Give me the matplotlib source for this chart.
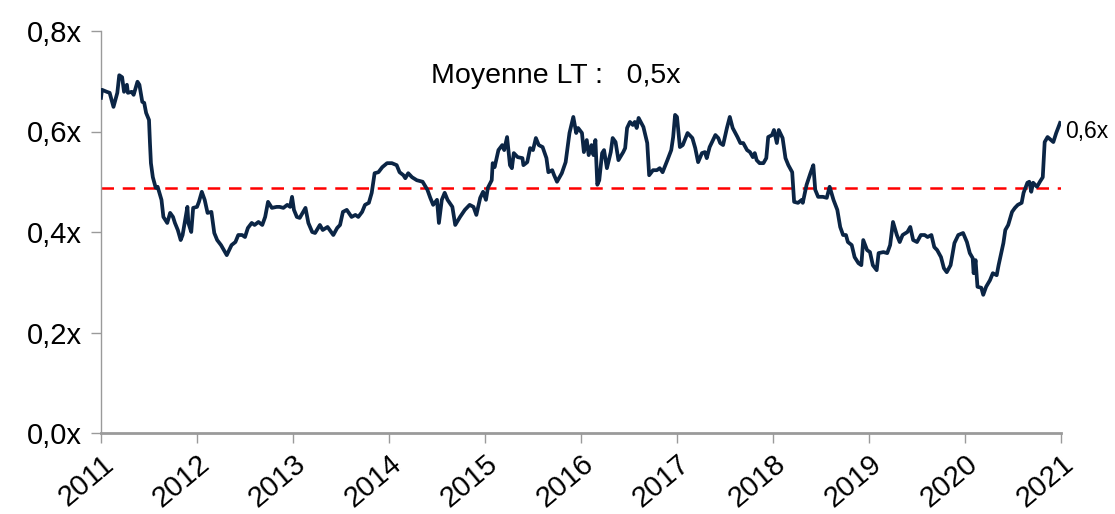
import matplotlib
matplotlib.use("Agg")
import matplotlib.pyplot as plt

# Decimal years and valuation multiple (x)
years = [
    2011.00, 2011.01, 2011.06, 2011.09, 2011.13, 2011.17, 2011.19, 2011.22, 2011.24, 2011.27,
    2011.28, 2011.32, 2011.34, 2011.38, 2011.40, 2011.43, 2011.45, 2011.47, 2011.50, 2011.51,
    2011.52, 2011.54, 2011.57, 2011.59, 2011.63, 2011.65, 2011.69, 2011.72, 2011.75, 2011.77,
    2011.80, 2011.83, 2011.85, 2011.90, 2011.91, 2011.94, 2011.96, 2012.00, 2012.02, 2012.05,
    2012.08, 2012.11, 2012.15, 2012.18, 2012.21, 2012.25, 2012.31, 2012.36, 2012.40, 2012.43,
    2012.47, 2012.50, 2012.53, 2012.57, 2012.60, 2012.64, 2012.68, 2012.71, 2012.74, 2012.78,
    2012.83, 2012.86, 2012.90, 2012.94, 2012.97, 2012.99, 2013.01, 2013.04, 2013.07, 2013.13,
    2013.16, 2013.20, 2013.23, 2013.28, 2013.31, 2013.36, 2013.42, 2013.46, 2013.49, 2013.52,
    2013.56, 2013.61, 2013.65, 2013.68, 2013.72, 2013.75, 2013.79, 2013.82, 2013.85, 2013.89,
    2013.93, 2013.98, 2014.03, 2014.08, 2014.11, 2014.15, 2014.17, 2014.20, 2014.24, 2014.29,
    2014.35, 2014.40, 2014.43, 2014.46, 2014.50, 2014.52, 2014.55, 2014.58, 2014.61, 2014.66,
    2014.69, 2014.74, 2014.79, 2014.84, 2014.88, 2014.91, 2014.95, 2014.98, 2015.01, 2015.03,
    2015.07, 2015.08, 2015.10, 2015.14, 2015.18, 2015.20, 2015.23, 2015.26, 2015.28, 2015.30,
    2015.34, 2015.39, 2015.40, 2015.44, 2015.47, 2015.50, 2015.53, 2015.56, 2015.60, 2015.64,
    2015.66, 2015.70, 2015.72, 2015.75, 2015.80, 2015.84, 2015.88, 2015.92, 2015.95, 2015.97,
    2016.01, 2016.03, 2016.06, 2016.08, 2016.11, 2016.13, 2016.15, 2016.17, 2016.19, 2016.22,
    2016.24, 2016.27, 2016.31, 2016.33, 2016.36, 2016.39, 2016.44, 2016.46, 2016.48, 2016.51,
    2016.54, 2016.56, 2016.58, 2016.60, 2016.65, 2016.69, 2016.71, 2016.75, 2016.79, 2016.82,
    2016.85, 2016.90, 2016.94, 2016.96, 2016.98, 2017.00, 2017.03, 2017.06, 2017.11, 2017.16,
    2017.19, 2017.22, 2017.26, 2017.29, 2017.31, 2017.34, 2017.40, 2017.43, 2017.45, 2017.48,
    2017.52, 2017.55, 2017.58, 2017.63, 2017.66, 2017.69, 2017.73, 2017.76, 2017.79, 2017.81,
    2017.83, 2017.86, 2017.90, 2017.93, 2017.95, 2017.99, 2018.01, 2018.04, 2018.06, 2018.10,
    2018.13, 2018.16, 2018.20, 2018.22, 2018.26, 2018.30, 2018.31, 2018.35, 2018.39, 2018.42,
    2018.44, 2018.47, 2018.52, 2018.56, 2018.59, 2018.63, 2018.67, 2018.70, 2018.73, 2018.76,
    2018.78, 2018.82, 2018.85, 2018.89, 2018.92, 2018.94, 2018.98, 2019.01, 2019.04, 2019.08,
    2019.10, 2019.15, 2019.19, 2019.22, 2019.25, 2019.29, 2019.32, 2019.35, 2019.40, 2019.43,
    2019.46, 2019.50, 2019.54, 2019.58, 2019.61, 2019.65, 2019.68, 2019.71, 2019.75, 2019.78,
    2019.81, 2019.85, 2019.89, 2019.93, 2019.98, 2020.02, 2020.05, 2020.08, 2020.09, 2020.11,
    2020.13, 2020.17, 2020.19, 2020.22, 2020.26, 2020.29, 2020.33, 2020.35, 2020.40, 2020.42,
    2020.45, 2020.49, 2020.52, 2020.55, 2020.59, 2020.61, 2020.65, 2020.67, 2020.69, 2020.71,
    2020.75, 2020.78, 2020.81, 2020.83, 2020.86, 2020.92, 2020.95, 2020.99,
]
values = [
    0.667, 0.683, 0.679, 0.677, 0.649, 0.677, 0.712, 0.708, 0.679, 0.693,
    0.677, 0.679, 0.673, 0.699, 0.693, 0.659, 0.657, 0.637, 0.623, 0.577,
    0.537, 0.509, 0.488, 0.490, 0.464, 0.430, 0.418, 0.438, 0.430, 0.418,
    0.404, 0.384, 0.394, 0.450, 0.418, 0.400, 0.448, 0.450, 0.460, 0.480,
    0.464, 0.438, 0.440, 0.398, 0.384, 0.374, 0.354, 0.374, 0.380, 0.394,
    0.394, 0.390, 0.408, 0.418, 0.414, 0.420, 0.414, 0.430, 0.460, 0.448,
    0.450, 0.450, 0.448, 0.454, 0.450, 0.470, 0.444, 0.430, 0.428, 0.448,
    0.418, 0.400, 0.398, 0.414, 0.404, 0.410, 0.394, 0.408, 0.414, 0.440,
    0.444, 0.430, 0.434, 0.430, 0.440, 0.454, 0.458, 0.478, 0.517, 0.519,
    0.529, 0.537, 0.537, 0.533, 0.519, 0.513, 0.507, 0.517, 0.509, 0.503,
    0.500, 0.484, 0.468, 0.454, 0.464, 0.418, 0.464, 0.478, 0.464, 0.450,
    0.414, 0.430, 0.444, 0.454, 0.450, 0.434, 0.468, 0.480, 0.464, 0.488,
    0.503, 0.537, 0.529, 0.563, 0.573, 0.563, 0.589, 0.533, 0.527, 0.557,
    0.549, 0.547, 0.533, 0.539, 0.567, 0.563, 0.587, 0.573, 0.569, 0.547,
    0.519, 0.523, 0.513, 0.500, 0.517, 0.539, 0.597, 0.629, 0.597, 0.607,
    0.597, 0.559, 0.583, 0.553, 0.573, 0.553, 0.583, 0.494, 0.503, 0.557,
    0.563, 0.527, 0.559, 0.587, 0.579, 0.543, 0.559, 0.567, 0.607, 0.619,
    0.613, 0.619, 0.607, 0.627, 0.609, 0.577, 0.513, 0.523, 0.523, 0.527,
    0.519, 0.543, 0.563, 0.589, 0.633, 0.629, 0.569, 0.573, 0.597, 0.587,
    0.567, 0.539, 0.557, 0.559, 0.547, 0.569, 0.593, 0.587, 0.577, 0.573,
    0.607, 0.629, 0.607, 0.589, 0.577, 0.577, 0.563, 0.559, 0.549, 0.557,
    0.543, 0.537, 0.537, 0.547, 0.589, 0.593, 0.603, 0.577, 0.603, 0.587,
    0.547, 0.533, 0.519, 0.460, 0.458, 0.464, 0.458, 0.494, 0.517, 0.533,
    0.484, 0.470, 0.470, 0.468, 0.490, 0.464, 0.444, 0.410, 0.394, 0.394,
    0.380, 0.374, 0.350, 0.338, 0.334, 0.384, 0.364, 0.360, 0.334, 0.324,
    0.358, 0.360, 0.358, 0.374, 0.420, 0.394, 0.380, 0.394, 0.400, 0.410,
    0.384, 0.380, 0.394, 0.394, 0.390, 0.394, 0.370, 0.364, 0.350, 0.328,
    0.320, 0.334, 0.378, 0.394, 0.398, 0.380, 0.358, 0.348, 0.318, 0.344,
    0.291, 0.289, 0.275, 0.291, 0.304, 0.318, 0.314, 0.334, 0.378, 0.404,
    0.414, 0.440, 0.448, 0.454, 0.458, 0.478, 0.498, 0.500, 0.480, 0.498,
    0.490, 0.500, 0.509, 0.579, 0.589, 0.579, 0.597, 0.617,
]
long_term_mean = 0.487
mean_label = "Moyenne LT :   0,5x"
last_label = "0,6x"
year_ticks = list(range(2011, 2022))
y_ticks = [0.0, 0.2, 0.4, 0.6, 0.8]
y_tick_labels = ["0,0x", "0,2x", "0,4x", "0,6x", "0,8x"]

plt.rcParams['font.family'] = ['Liberation Sans', 'DejaVu Sans']

fig = plt.figure(figsize=(11.15, 5.14), dpi=100)
ax = fig.add_axes([101 / 1115, 1 - 433 / 514, 960 / 1115, 402 / 514])

ax.plot(years, values, color="#0b2545", linewidth=2.7, solid_joinstyle="round", zorder=3)
ax.plot([year_ticks[0], year_ticks[-1]], [long_term_mean, long_term_mean],
        color="#ff0000", linewidth=1.8, linestyle=(0, (5, 3.5)), zorder=2)

ax.set_xlim(year_ticks[0], year_ticks[-1])
ax.set_ylim(0, 0.8)
ax.set_xticks(year_ticks)
ax.set_xticklabels([str(y) for y in year_ticks], rotation=40, ha="right",
                   rotation_mode="anchor", fontsize=21)
ax.set_yticks(y_ticks)
ax.set_yticklabels(y_tick_labels, fontsize=21)

for s in ["top", "right"]:
    ax.spines[s].set_visible(False)
ax.spines["left"].set_color("#9a9a9a")
ax.spines["left"].set_linewidth(1.0)
ax.spines["bottom"].set_color("#9a9a9a")
ax.spines["bottom"].set_linewidth(2.0)
ax.tick_params(axis="x", direction="out", length=7, width=1, color="#9a9a9a", pad=5)
ax.tick_params(axis="y", direction="out", length=7, width=1, color="#9a9a9a", pad=7)

ax.text(0.474, 0.888, mean_label, transform=ax.transAxes, ha="center", va="center",
        fontsize=20.5)
ax.annotate(last_label, xy=(years[-1], values[-1]), xytext=(5, -9),
            textcoords="offset pixels", ha="left", va="center", fontsize=16.5,
            annotation_clip=False)

fig.savefig("out.png", dpi=100)
